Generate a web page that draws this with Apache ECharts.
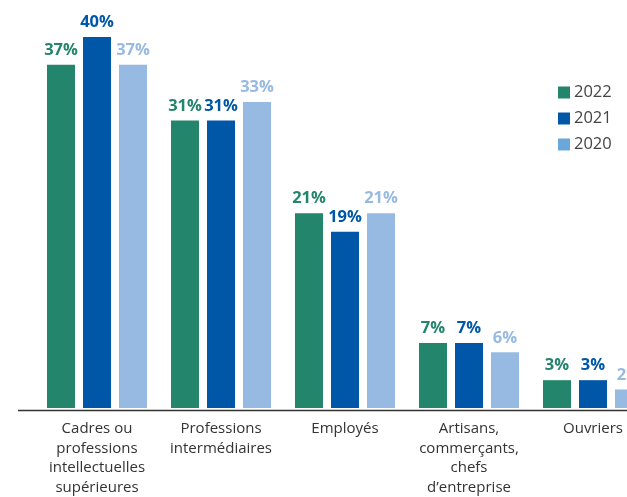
<!DOCTYPE html>
<html>
<head>
<meta charset="utf-8">
<script src="https://cdn.jsdelivr.net/npm/echarts@6/dist/echarts.min.js"></script>
<style>
html,body{margin:0;padding:0;background:#fff;overflow:hidden;width:627px;height:497px;}
#chart{width:655px;height:497px;}
</style>
</head>
<body>
<div id="chart"></div>
<script>
var categories = ['Cadres ou\nprofessions\nintellectuelles\nsupérieures', 'Professions\nintermédiaires', 'Employés', 'Artisans,\ncommerçants,\nchefs\nd\u2019entreprise', 'Ouvriers'];
var seriesNames = ['2022', '2021', '2020'];
var values2022 = [37, 31, 21, 7, 3];
var values2021 = [40, 31, 19, 7, 3];
var values2020 = [37, 33, 21, 6, 2];
var colors = ['#23856b', '#0057a8', '#97bae3'];
var legendColors = ['#23856b', '#0057a8', '#6aa8dc'];

var font = 'Open Sans';
var chart = echarts.init(document.getElementById('chart'), null, {renderer: 'canvas'});
var allValues = [values2022, values2021, values2020];
var series = seriesNames.map(function (name, i) {
  return {
    name: name,
    type: 'bar',
    data: allValues[i],
    barWidth: 28,
    barGap: '28.6%',
    itemStyle: {color: colors[i]},
    label: {
      show: true,
      position: 'top',
      distance: 6,
      formatter: '{c}%',
      color: colors[i],
      fontFamily: font,
      fontWeight: 'bold',
      fontSize: 16.5
    }
  };
});

chart.setOption({
  animation: false,
  color: legendColors,
  legend: {
    orient: 'vertical',
    left: 553,
    top: 79,
    itemWidth: 12,
    itemHeight: 12,
    itemGap: 9,
    icon: 'rect',
    data: seriesNames.map(function (n, i) { return {name: n, itemStyle: {color: legendColors[i]}}; }),
    textStyle: {color: '#444', fontFamily: font, fontSize: 16.5, padding: [0, 0, 0, -1]}
  },
  grid: {left: 35, top: 37, right: 0, bottom: 86, containLabel: false},
  xAxis: {
    type: 'category',
    data: categories,
    axisLine: {show: false},
    axisTick: {show: false},
    axisLabel: {
      color: '#333',
      fontFamily: font,
      fontSize: 15,
      lineHeight: 19.5,
      margin: 11,
      interval: 0
    }
  },
  yAxis: {
    type: 'value',
    min: 0,
    max: 40,
    show: false,
    splitLine: {show: false}
  },
  graphic: [{
    type: 'line',
    z: 10,
    shape: {x1: 18, y1: 410.5, x2: 655, y2: 410.5},
    style: {stroke: '#333', lineWidth: 1.5}
  }],
  series: series
});
</script>
</body>
</html>
